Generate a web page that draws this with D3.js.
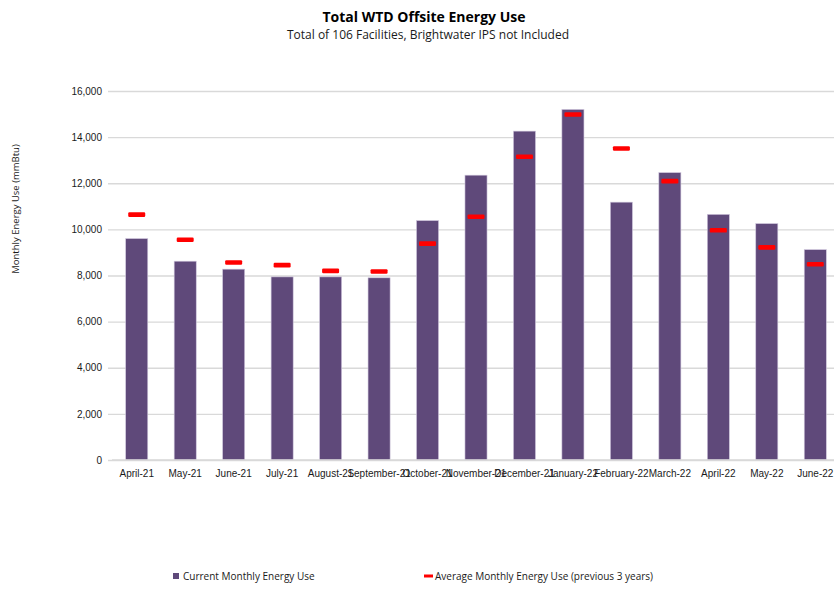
<!DOCTYPE html>
<html>
<head>
<meta charset="utf-8">
<script src="https://cdn.jsdelivr.net/npm/d3@7"></script>
<style>
	body { margin: 0; background: #fff; }
	svg { display: block; font-family: "Open Sans", "Noto Sans", sans-serif; }
</style>
</head>
<body>
<div id="interface"></div>
<script>

// data
var months = ["April-21", "May-21", "June-21", "July-21", "August-21", "September-21", "October-21",
	"November-21", "December-21", "January-22", "February-22", "March-22", "April-22", "May-22", "June-22"];
var current_use = [9600, 8620, 8275, 7940, 7940, 7900, 10380, 12350, 14260, 15200, 11180, 12460, 10650, 10250, 9120];
var avg_use = [10640, 9550, 8565, 8450, 8200, 8175, 9380, 10550, 13150, 14980, 13510, 12090, 9960, 9220, 8490];
var y_ticks = [0, 2000, 4000, 6000, 8000, 10000, 12000, 14000, 16000];

var title = "Total WTD Offsite Energy Use";
var subtitle = "Total of 106 Facilities, Brightwater IPS not Included";
var y_title = "Monthly Energy Use (mmBtu)";
var legend_items = ["Current Monthly Energy Use", "Average Monthly Energy Use (previous 3 years)"];

// global variables
var svg_w = 834;
var svg_h = 589;
var bar_color = "#5f497a";
var dash_color = "#ff0000";
var grid_color = "#d9d9d9";
var text_color = "#1a1a1a";
var small_font = "10px";

var svg = d3.select("#interface")
	.append("svg")
	.attr("width", svg_w)
	.attr("height", svg_h);

// scales
var x_scale = d3.scaleBand()
	.domain(months)
	.range([112.5, 839.5])
	.paddingInner(0.545)
	.paddingOuter(0.2725);

var y_scale = d3.scaleLinear()
	.domain([0, 16000])
	.range([460, 91]);

// gridlines + y labels
var y_axis = d3.axisLeft(y_scale)
	.tickValues(y_ticks)
	.tickSize(-(svg_w - 108))
	.tickPadding(6)
	.tickFormat(d3.format(","));

svg.append("g")
	.attr("class", "y-axis")
	.attr("transform", "translate(108,0)")
	.call(y_axis)
	.call(function(g) {
		g.select(".domain").remove();
		g.selectAll(".tick line")
			.attr("stroke", grid_color)
			.attr("stroke-width", 1.3);
		g.selectAll(".tick text")
			.attr("fill", text_color)
			.style("font-size", small_font);
	});

// bars
svg.append("g")
	.selectAll("rect")
	.data(current_use)
	.enter()
	.append("rect")
	.attr("x", function(d, i) { return x_scale(months[i]); })
	.attr("y", function(d) { return y_scale(d); })
	.attr("width", x_scale.bandwidth())
	.attr("height", function(d) { return y_scale(0) - y_scale(d); })
	.attr("fill", bar_color)
	.attr("stroke", "#cfc6dc")
	.attr("stroke-width", 0.6);

// red dashes for the 3 year average
svg.append("g")
	.selectAll("rect")
	.data(avg_use)
	.enter()
	.append("rect")
	.attr("x", function(d, i) { return x_scale(months[i]) + x_scale.bandwidth() / 2 - 8.5; })
	.attr("y", function(d) { return y_scale(d) - 2.3; })
	.attr("width", 17)
	.attr("height", 4.6)
	.attr("rx", 1.2)
	.attr("fill", dash_color);

// x axis (long names run into each other, same as the original)
var x_axis = d3.axisBottom(x_scale)
	.tickSize(0)
	.tickPadding(10);

svg.append("g")
	.attr("transform", "translate(0,460)")
	.call(x_axis)
	.call(function(g) {
		g.select(".domain")
			.attr("d", "M112,0H" + svg_w)
			.attr("stroke", grid_color)
			.attr("stroke-width", 1.3);
		g.selectAll(".tick text")
			.attr("fill", text_color)
			.style("font-size", small_font);
	});

// titles
svg.append("text")
	.attr("x", 424)
	.attr("y", 22)
	.attr("text-anchor", "middle")
	.style("font-size", "14px")
	.style("font-weight", "bold")
	.attr("fill", "#000")
	.text(title);

svg.append("text")
	.attr("x", 428)
	.attr("y", 39)
	.attr("text-anchor", "middle")
	.style("font-size", "12px")
	.attr("fill", text_color)
	.text(subtitle);

svg.append("text")
	.attr("transform", "translate(19,209) rotate(-90)")
	.attr("text-anchor", "middle")
	.style("font-size", "9.5px")
	.attr("fill", text_color)
	.text(y_title);

// legend
var legend = svg.append("g").attr("transform", "translate(0,580)");

legend.append("rect")
	.attr("x", 173)
	.attr("y", -7)
	.attr("width", 6)
	.attr("height", 6)
	.attr("fill", bar_color);
legend.append("text")
	.attr("x", 183)
	.attr("y", 0)
	.style("font-size", small_font)
	.attr("fill", text_color)
	.text(legend_items[0]);

legend.append("rect")
	.attr("x", 424)
	.attr("y", -5.5)
	.attr("width", 9)
	.attr("height", 3)
	.attr("fill", dash_color);
legend.append("text")
	.attr("x", 435)
	.attr("y", 0)
	.style("font-size", small_font)
	.attr("fill", text_color)
	.text(legend_items[1]);

</script>
</body>
</html>
